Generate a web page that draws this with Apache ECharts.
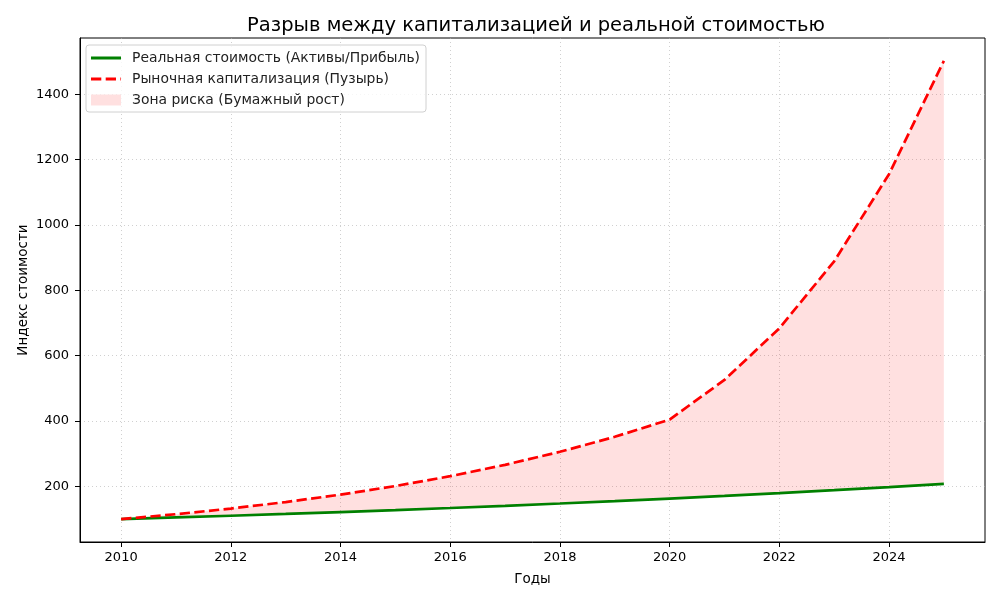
<!DOCTYPE html>
<html lang="ru">

<head>
    <meta charset="UTF-8">
    <title>Разрыв между капитализацией и реальной стоимостью</title>
    <script src="https://cdn.jsdelivr.net/npm/echarts@6/dist/echarts.min.js"></script>
    <style>
        html, body { margin: 0; padding: 0; background: #fff; }
        #chart { width: 1000px; height: 600px; }
    </style>
</head>

<body>
    <div id="chart"></div>
    <script>
        // данные
        const years = [2010, 2011, 2012, 2013, 2014, 2015, 2016, 2017, 2018, 2019, 2020, 2021, 2022, 2023, 2024, 2025];
        const realValue = [100, 105, 110.3, 115.8, 121.6, 127.6, 134.0, 140.7, 147.7, 155.1, 162.9, 171.0, 179.6, 188.6, 198.0, 207.9];
        const marketCap = [100, 115, 132.3, 152.1, 174.9, 201.1, 231.3, 266.0, 305.9, 351.8, 404.6, 525.9, 683.7, 888.8, 1155.5, 1502.1];
        const xTicks = [2010, 2012, 2014, 2016, 2018, 2020, 2022, 2024];
        const yTicks = [200, 400, 600, 800, 1000, 1200, 1400];

        const FONT = 'DejaVu Sans';
        const NAME_REAL = 'Реальная стоимость (Активы/Прибыль)';
        const NAME_MARKET = 'Рыночная капитализация (Пузырь)';
        const NAME_ZONE = 'Зона риска (Бумажный рост)';
        const ZONE_COLOR = 'rgba(255,0,0,0.12)';

        // значки легенды: рамка 36x12 задаётся крошечными точками по углам
        const BOX = 'M0,0L0.01,0L0.01,0.01Z M35.99,11.99L36,11.99L36,12Z ';
        const ICON_SOLID = 'path://' + BOX + 'M0,4.6H30V7.4H0Z';
        const ICON_DASHED = 'path://' + BOX + 'M0,4.6H10.3V7.4H0Z M14.7,4.6H25V7.4H14.7Z M29.4,4.6H30V7.4H29.4Z';
        const ICON_PATCH = 'path://' + BOX + 'M0,0.5H30V11.5H0Z';

        const chart = echarts.init(document.getElementById('chart'), null, { renderer: 'canvas' });

        const pair = (arr) => years.map((y, i) => [y, arr[i]]);

        // заливка между двумя линиями одним многоугольником
        function renderZone(params, api) {
            if (params.dataIndexInside !== 0) return null;
            const upper = years.map((y, i) => api.coord([y, marketCap[i]]));
            const lower = years.map((y, i) => api.coord([y, realValue[i]])).reverse();
            return {
                type: 'polygon',
                shape: { points: upper.concat(lower) },
                style: { fill: ZONE_COLOR, stroke: null }
            };
        }

        const gridLine = { show: true, lineStyle: { color: '#b0b0b0', type: [1, 3], width: 0.8, opacity: 0.75 } };

        const option = {
            animation: false,
            backgroundColor: '#fff',
            title: {
                text: 'Разрыв между капитализацией и реальной стоимостью',
                left: 531, top: 11, textAlign: 'center',
                textStyle: { fontFamily: FONT, fontSize: 19.5, fontWeight: 'normal', color: '#000' }
            },
            grid: { left: 80, right: 15, top: 38, bottom: 58, containLabel: false, show: true, borderColor: '#000', borderWidth: 1, backgroundColor: 'transparent' },
            legend: {
                left: 86, top: 45,
                orient: 'vertical',
                padding: [6, 6, 5, 5],
                itemGap: 7,
                itemWidth: 36, itemHeight: 12,
                backgroundColor: 'rgba(255,255,255,0.8)',
                borderColor: '#d0d0d0', borderWidth: 1, borderRadius: 3,
                textStyle: { fontFamily: FONT, fontSize: 13.9, color: '#222' },
                data: [
                    { name: NAME_REAL, icon: ICON_SOLID, itemStyle: { color: 'green' } },
                    { name: NAME_MARKET, icon: ICON_DASHED, itemStyle: { color: 'red' } },
                    { name: NAME_ZONE, icon: ICON_PATCH, itemStyle: { color: ZONE_COLOR } }
                ]
            },
            xAxis: {
                type: 'value', min: 2009.25, max: 2025.75,
                name: 'Годы', nameLocation: 'middle', nameGap: 30, nameMoveOverlap: false,
                nameTextStyle: { fontFamily: FONT, fontSize: 13.5, color: '#000' },
                axisLine: { show: true, lineStyle: { color: '#000', width: 1 } },
                axisTick: { show: true, length: 5, customValues: xTicks, lineStyle: { color: '#000' } },
                axisLabel: { customValues: xTicks, formatter: (v) => String(v), fontFamily: FONT, fontSize: 13, color: '#000', margin: 9 },
                splitLine: gridLine
            },
            yAxis: {
                type: 'value', min: 29.9, max: 1572.2,
                name: 'Индекс стоимости', nameLocation: 'middle', nameGap: 50, nameRotate: 90, nameMoveOverlap: false,
                nameTextStyle: { fontFamily: FONT, fontSize: 13.5, color: '#000' },
                axisLine: { show: true, lineStyle: { color: '#000', width: 1 } },
                axisTick: { show: true, length: 5, customValues: yTicks, lineStyle: { color: '#000' } },
                axisLabel: { customValues: yTicks, formatter: (v) => String(v), fontFamily: FONT, fontSize: 13, color: '#000', margin: 11 },
                splitLine: gridLine
            },
            series: [
                {
                    name: NAME_ZONE, type: 'custom', renderItem: renderZone,
                    data: years.map((y, i) => [y, realValue[i], marketCap[i]]),
                    encode: { x: 0, y: [1, 2] },
                    itemStyle: { color: ZONE_COLOR },
                    clip: true, z: 1, silent: true
                },
                {
                    name: NAME_REAL, type: 'line', data: pair(realValue),
                    symbol: 'none', z: 4,
                    lineStyle: { color: 'green', width: 2.7 },
                    itemStyle: { color: 'green' }
                },
                {
                    name: NAME_MARKET, type: 'line', data: pair(marketCap),
                    symbol: 'none', z: 5,
                    lineStyle: { color: 'red', width: 2.7, type: [10.3, 4.4] },
                    itemStyle: { color: 'red' }
                }
            ]
        };

        chart.setOption(option);
    </script>
</body>

</html>
